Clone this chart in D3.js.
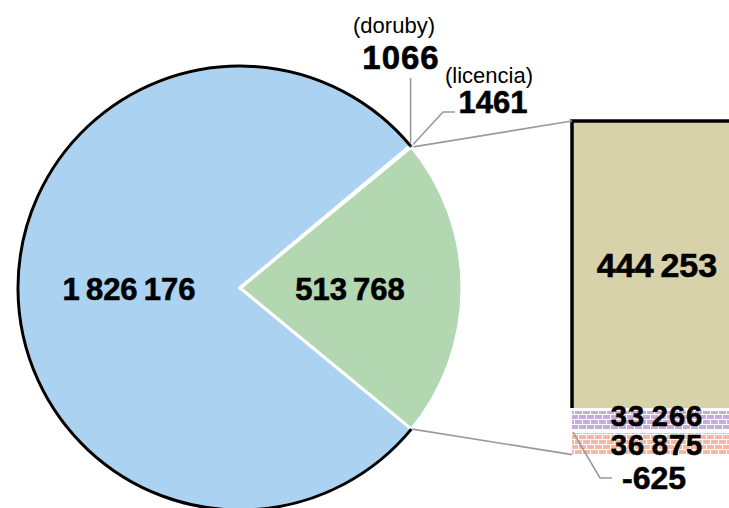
<!DOCTYPE html>
<html>
<head>
<meta charset="utf-8">
<script src="https://cdn.jsdelivr.net/npm/d3@7"></script>
<style>
  body { margin: 0; background: #fff; }
  svg { display: block; }
  text { font-family: "Liberation Sans", Arial, sans-serif; fill: #000; }
  .big { font-weight: bold; font-size: 31px; stroke: #000; stroke-width: 0.6px; }
  .small { font-size: 22px; }
  .leader { stroke: #9a9a9a; stroke-width: 1.6; fill: none; }
</style>
</head>
<body>
<svg width="729" height="508"></svg>
<script>
// pie slices (clockwise, starting with the pulled-out green one)
var pieKeys   = ["zvysok", "hlavne", "doruby", "licencia"];
var pieValues = [513768, 1826176, 1066, 1461];
var pieColors = ["#b2d7b1", "#abd3f1", "#abd3f1", "#abd3f1"];

// breakdown of the green slice
var barKeys   = ["a", "b", "c", "d"];
var barValues = [444253, 33266, 36875, -625];
var barColors = ["#d7d2aa", "#c6acdd", "#f5b8a1", "none"];

var width = 729, height = 508;
var cx = 240, cy = 288, radius = 222;

var locale = d3.formatLocale({decimal: ",", thousands: "\u2009", grouping: [3], currency: ["", ""], minus: "-"});
var fmtGroup = locale.format(",d");
function fmt(v) { return Math.abs(v) < 10000 ? String(v) : fmtGroup(v); }

var svg = d3.select("svg");
var defs = svg.append("defs");

// white brick-like dashes laid over a solid fill
var p = defs.append("pattern")
   .attr("id", "bricks")
   .attr("patternUnits", "userSpaceOnUse")
   .attr("width", 8).attr("height", 10);
p.append("rect").attr("x", 0).attr("y", 4).attr("width", 8).attr("height", 1).attr("fill", "#fff");
p.append("rect").attr("x", 0).attr("y", 9).attr("width", 8).attr("height", 1).attr("fill", "#fff");
p.append("rect").attr("x", 6).attr("y", 0).attr("width", 1).attr("height", 4).attr("fill", "#fff");
p.append("rect").attr("x", 2).attr("y", 5).attr("width", 1).attr("height", 4).attr("fill", "#fff");

// --- pie ---
var total = d3.sum(pieValues);
var greenAngle = pieValues[0] / total * 2 * Math.PI;
var start = Math.PI / 2 - greenAngle / 2;

var pie = d3.pie().sort(null).startAngle(start).endAngle(start + 2 * Math.PI);
var arcs = pie(pieValues);

var arc = d3.arc().innerRadius(0).outerRadius(radius);
var rim = d3.arc().innerRadius(radius).outerRadius(radius);

var g = svg.append("g").attr("transform", "translate(" + cx + "," + cy + ")");

g.selectAll("path.slice")
   .data(arcs)
   .enter().append("path")
   .attr("class", "slice")
   .attr("d", arc)
   .attr("fill", function(d, i) { return pieColors[i]; })
   .attr("stroke", "#fff")
   .attr("stroke-width", 3)
   .attr("stroke-linejoin", "round");

// black rim on everything except the green slice
g.selectAll("path.rim")
   .data(arcs.slice(1))
   .enter().append("path")
   .attr("class", "rim")
   .attr("d", rim)
   .attr("fill", "none")
   .attr("stroke", "#000")
   .attr("stroke-width", 3);

function onRim(a, r) {
   return [cx + r * Math.sin(a), cy - r * Math.cos(a)];
}

// --- bar ---
var barX = 572, barW = 170;
var stackEnds = [];
var acc = 0;
barValues.forEach(function(v) { stackEnds.push([acc, acc + v]); acc += v; });
var maxTop = d3.max(stackEnds, function(d) { return Math.max(d[0], d[1]); });

var y = d3.scaleLinear().domain([0, maxTop]).range([121, 455]);

var segY = function(d, i) { return Math.round(y(d[0]) + (i ? 1.5 : 0)); };
var segH = function(d, i) { return Math.round(y(d[1]) - y(d[0]) - (i ? 3 : 1.5)); };

var segs = svg.append("g").attr("class", "bar");
segs.selectAll("rect.seg")
   .data(stackEnds.slice(0, 3))
   .enter().append("rect")
   .attr("class", "seg")
   .attr("x", barX)
   .attr("y", segY)
   .attr("width", barW)
   .attr("height", segH)
   .attr("fill", function(d, i) { return barColors[i]; });

segs.selectAll("rect.hatch")
   .data(stackEnds.slice(1, 3))
   .enter().append("rect")
   .attr("class", "hatch")
   .attr("x", barX)
   .attr("y", function(d) { return segY(d, 1); })
   .attr("width", barW)
   .attr("height", function(d) { return segH(d, 1); })
   .attr("fill", "url(#bricks)");

// black edge on the main segment (top and left)
svg.append("path")
   .attr("d", "M" + (barX + barW) + "," + y(0) + "H" + barX + "V" + (y(stackEnds[0][1]) - 1.5))
   .attr("fill", "none")
   .attr("stroke", "#000")
   .attr("stroke-width", 3.5);

// connectors from the green slice to the bar
var gTop = onRim(arcs[0].startAngle, radius);
var gBot = onRim(arcs[0].endAngle, radius);
svg.append("line").attr("class", "leader")
   .attr("x1", gTop[0] + 2).attr("y1", gTop[1]).attr("x2", barX).attr("y2", y(0));
svg.append("line").attr("class", "leader")
   .attr("x1", gBot[0] + 1).attr("y1", gBot[1]).attr("x2", barX).attr("y2", y(acc));

// --- labels ---
var mid = function(d) { return (d.startAngle + d.endAngle) / 2; };

svg.append("text").attr("class", "big").attr("text-anchor", "middle")
   .attr("x", 129).attr("y", 300).text(fmt(pieValues[1]));
svg.append("text").attr("class", "big").attr("text-anchor", "middle")
   .attr("x", 350).attr("y", 300).text(fmt(pieValues[0]));

// doruby
var pd = onRim(mid(arcs[2]), radius);
svg.append("path").attr("class", "leader")
   .attr("d", "M" + pd[0] + "," + (pd[1] - 3) + "V78");
svg.append("text").attr("class", "small").attr("text-anchor", "middle")
   .attr("x", 394).attr("y", 33).text("(" + pieKeys[2] + ")");
svg.append("text").attr("class", "big").attr("text-anchor", "middle")
   .attr("x", 401).attr("y", 69).style("font-size", "33px").style("letter-spacing", "1px")
   .text(fmt(pieValues[2]));

// licencia
var pl = onRim(mid(arcs[3]), radius);
svg.append("path").attr("class", "leader")
   .attr("d", "M" + (pl[0] + 2) + "," + (pl[1] - 2) + "L443,112H455");
svg.append("text").attr("class", "small").attr("text-anchor", "middle")
   .attr("x", 489).attr("y", 83).text("(" + pieKeys[3] + ")");
svg.append("text").attr("class", "big").attr("text-anchor", "middle")
   .attr("x", 493).attr("y", 113).style("font-size", "31px")
   .text(fmt(pieValues[3]));

// bar labels
var labelY = [277, 426, 455];
var labelSize = [34, 29, 29];
barValues.slice(0, 3).forEach(function(v, i) {
   svg.append("text").attr("class", "big").attr("text-anchor", "middle")
      .attr("x", barX + 85).attr("y", labelY[i]).style("font-size", labelSize[i] + "px")
      .style("letter-spacing", i ? "1px" : null)
      .text(fmt(v));
});

// negative remainder
svg.append("path").attr("class", "leader")
   .attr("d", "M" + (barX + 1) + "," + (y(stackEnds[2][0]) + 1) + "L600,478H612");
svg.append("text").attr("class", "big").attr("text-anchor", "middle")
   .attr("x", 654).attr("y", 489).style("font-size", "32px").text(fmt(barValues[3]));
</script>
</body>
</html>
